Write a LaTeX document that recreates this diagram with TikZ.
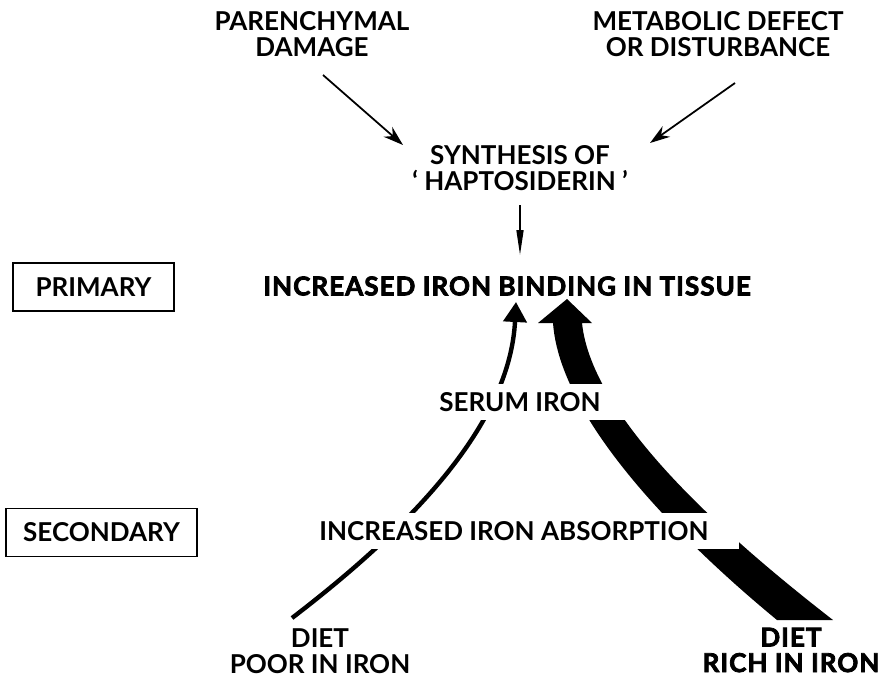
\documentclass[tikz,border=0pt]{standalone}
\usepackage{fontspec}
\setmainfont{Lato}
\newfontfamily\heavyfont{Lato}[BoldFeatures={FakeBold=3,LetterSpace=4}]
\usetikzlibrary{arrows.meta}

\tikzset{
    lbl/.style={font=\bfseries\fontsize{14.8}{14.5}\selectfont, align=center, inner sep=0pt},
    heavy/.style={font=\heavyfont\bfseries\fontsize{14.8}{14.5}\selectfont, align=center, inner sep=0pt},
    levelbox/.style={lbl, draw, line width=1.1pt, minimum height=0.96cm},
    gap/.style={fill=white, inner xsep=0.6cm, inner ysep=0.16cm},
    thinarr/.style={line width=1pt, -{Stealth[length=0.4cm,width=0.26cm]}},
    downarr/.style={line width=0.9pt, -{Triangle[length=0.5cm,width=0.14cm]}}
}

\begin{document}
\begin{tikzpicture}[x=0.02cm,y=-0.02cm]
    \useasboundingbox (0,0) rectangle (885,677);

    \coordinate (poorout) at (292,618);
    \coordinate (poorin) at (516,302);
    \coordinate (richL) at (777,620);
    \coordinate (richR) at (833,620);

    \fill (richL) .. controls (680,540) and (560,420) .. (553,323) -- (538,323) -- (567,299)
        -- (592,323) -- (582,323) .. controls (592,420) and (730,540) .. (richR) -- cycle;
    \draw[line width=2.5pt, -{Triangle[length=0.4cm,width=0.46cm]}]
        (poorout) .. controls (420,520) and (510,420) .. (poorin);

    \node[lbl] (damage) at (312,34) {PARENCHYMAL\\DAMAGE};
    \node[lbl] (defect) at (718,34) {METABOLIC DEFECT\\OR DISTURBANCE};
    \node[lbl] (synth) at (520,168) {SYNTHESIS OF\\‘ HAPTOSIDERIN ’};
    \node[heavy] (binding) at (507,286) {INCREASED IRON BINDING IN TISSUE};
    \node[lbl, gap] (serum) at (520,402) {SERUM IRON};
    \node[lbl, gap] (absorb) at (514,531) {INCREASED IRON ABSORPTION};
    \node[lbl] (poor) at (320,651) {DIET\\POOR IN IRON};
    \node[heavy] (rich) at (791,650) {DIET\\RICH IN IRON};

    \node[levelbox, minimum width=3.22cm] (primary) at (93.5,287) {PRIMARY};
    \node[levelbox, minimum width=3.82cm] (secondary) at (101.5,532.5) {SECONDARY};

    \coordinate (damageout) at (323,75);
    \coordinate (defectout) at (735,83);
    \draw[thinarr] (damageout) -- (403,145) coordinate (synthL);
    \draw[thinarr] (defectout) -- (650,143) coordinate (synthR);
    \draw[downarr] (synth.south |- 0,205) -- (synth.south |- 0,255);

\end{tikzpicture}
\end{document}
